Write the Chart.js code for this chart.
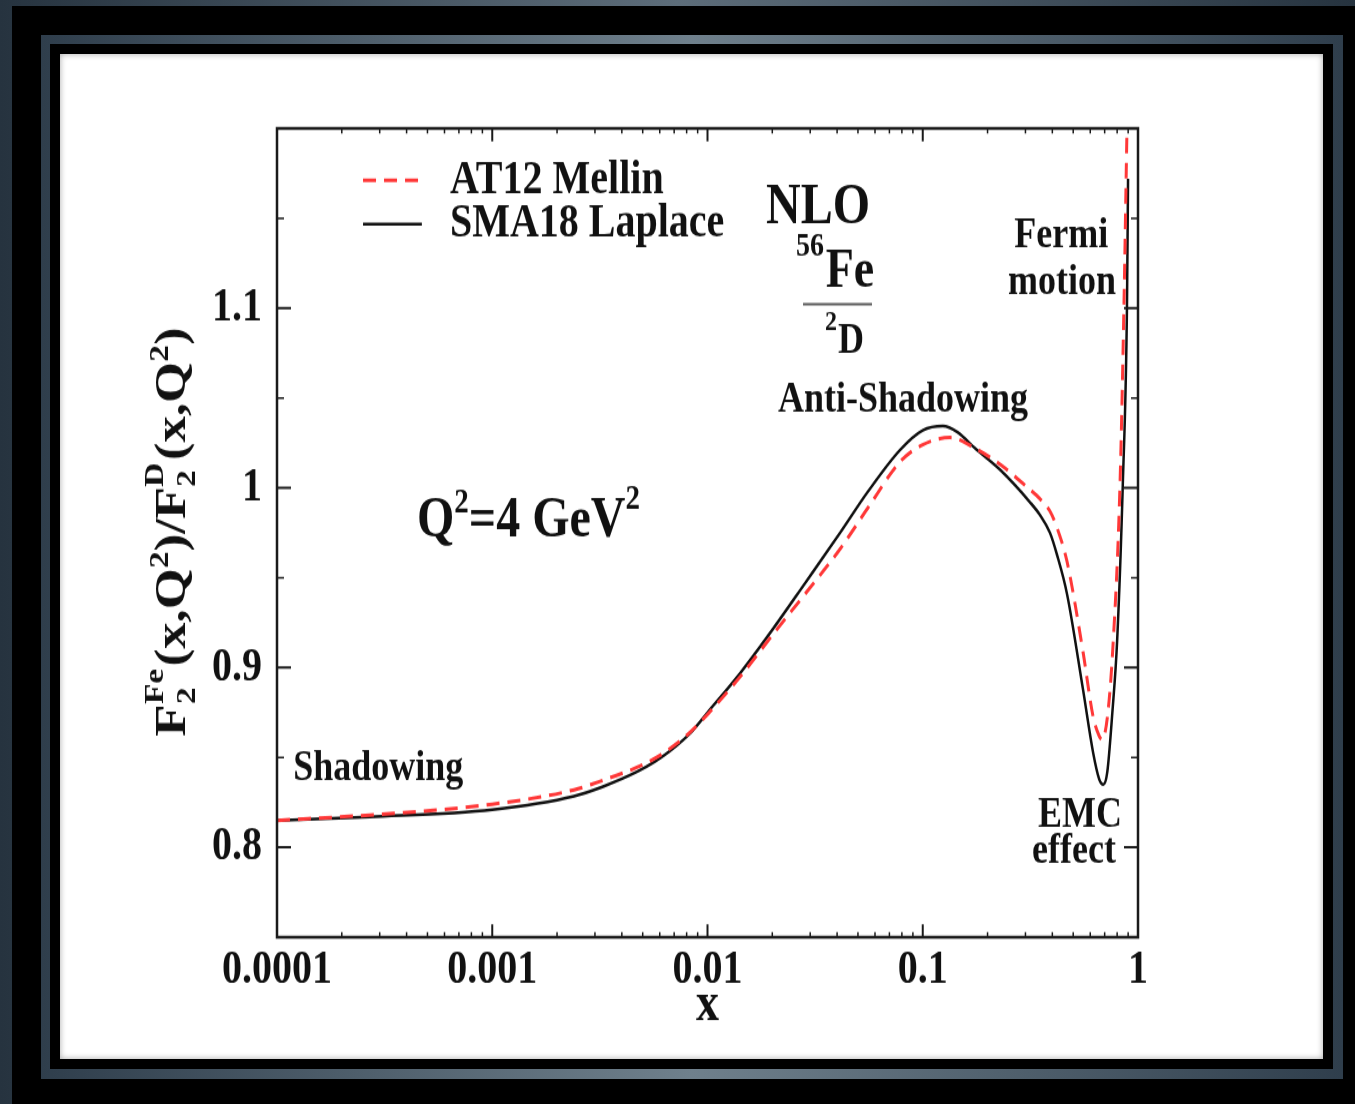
<!DOCTYPE html>
<html>
<head>
<meta charset="utf-8">
<script src="https://cdn.jsdelivr.net/npm/chart.js@4.4.1/dist/chart.umd.min.js"></script>
<style>
  html, body { margin: 0; padding: 0; }
  body { width: 1355px; height: 1104px; position: relative; overflow: hidden;
         background: linear-gradient(90deg, #26333f, #5d6d7a 50%, #26333f); }
  .box { position: absolute; }
  #f1 { left: 12px; top: 6px; right: 0; bottom: 0; background: #000; }
  #f2 { left: 41px; top: 35px; width: 1302px; height: 1044px;
        background: linear-gradient(90deg, #2f3e4c, #6f808c 50%, #2f3e4c); }
  #f3 { left: 50px; top: 44px; width: 1283px; height: 1025px; background: #000; }
  #panel { left: 60px; top: 54px; width: 1263px; height: 1005px; background: #fff;
           box-shadow: inset 0 0 6px rgba(0,0,0,0.35); }
  #chart { position: absolute; left: 0; top: 0; }
</style>
</head>
<body>
<div class="box" id="f1"></div>
<div class="box" id="f2"></div>
<div class="box" id="f3"></div>
<div class="box" id="panel"></div>
<!-- the source picture is stretched vertically, so the canvas is too -->
<canvas id="chart" width="1355" height="920" style="width:1355px;height:1104px"></canvas>
<script>
// SMA18 Laplace (solid black)
const smaX = [1e-4, 2.7e-4, 1e-3, 2.4e-3, 3.3e-3, 4.7e-3, 5.7e-3, 6.7e-3, 8.3e-3, 0.01, 0.0142, 0.02,
              0.0284, 0.0413, 0.0557, 0.0783, 0.1, 0.124, 0.145, 0.175, 0.229, 0.315, 0.35, 0.39, 0.42,
              0.468, 0.555, 0.618, 0.66, 0.69, 0.72, 0.76, 0.80, 0.85, 0.889, 0.899];
const smaY = [0.815, 0.817, 0.821, 0.8285, 0.834, 0.842, 0.8477, 0.8536, 0.8634, 0.875, 0.897, 0.921,
              0.947, 0.975, 0.998, 1.021, 1.032, 1.0344, 1.031, 1.022, 1.010, 0.992, 0.985, 0.975, 0.963,
              0.941, 0.888, 0.853, 0.838, 0.835, 0.842, 0.875, 0.915, 1.002, 1.102, 1.172];
// AT12 Mellin (dashed red)
const atX = [1e-4, 2.7e-4, 1e-3, 2.4e-3, 3.3e-3, 4.7e-3, 5.7e-3, 6.7e-3, 8.3e-3, 0.01, 0.0142, 0.02,
             0.0284, 0.0413, 0.0557, 0.0783, 0.1, 0.134, 0.175, 0.229, 0.315, 0.35, 0.39, 0.42, 0.468,
             0.555, 0.618, 0.66, 0.68, 0.72, 0.765, 0.824, 0.86, 0.889, 0.91];
const atY = [0.815, 0.818, 0.824, 0.832, 0.8375, 0.8445, 0.8495, 0.855, 0.864, 0.874, 0.895, 0.918,
             0.941, 0.966, 0.989, 1.0144, 1.024, 1.028, 1.022, 1.013, 0.999, 0.994, 0.987, 0.978, 0.959,
             0.909, 0.873, 0.862, 0.860, 0.872, 0.912, 1.000, 1.100, 1.200, 1.260];

const xTicks = [1e-4, 1e-3, 1e-2, 1e-1, 1];
const xTickLabels = ['0.0001', '0.001', '0.01', '0.1', '1'];
const yTicks = [0.8, 0.9, 1.0, 1.1];
const yTickLabels = ['0.8', '0.9', '1', '1.1'];
const yMinorTicks = [0.75, 0.85, 0.95, 1.05, 1.15];

const SERIF = '"Liberation Serif", "Times New Roman", serif';
const K = 1104 / 920; // vertical stretch

function pts(xs, ys) { return xs.map((x, i) => ({ x: x, y: ys[i] })); }

function text(ctx, s, x, y, size, align) {
  ctx.font = 'bold ' + size + 'px ' + SERIF;
  ctx.textAlign = align || 'left';
  ctx.textBaseline = 'middle';
  ctx.fillText(s, x, y);
  return ctx.measureText(s).width;
}

// box round the plot with inward ticks on all four sides
const framePlugin = {
  id: 'frame',
  afterDatasetsDraw(chart) {
    const { ctx, chartArea: a, scales } = chart;
    const xs = scales.x, ys = scales.y;
    ctx.save();
    ctx.strokeStyle = '#1a1a1a';
    ctx.lineWidth = 2;
    ctx.beginPath();
    xTicks.forEach(v => {
      const p = xs.getPixelForValue(v);
      ctx.moveTo(p, a.bottom); ctx.lineTo(p, a.bottom - 13 / K);
      ctx.moveTo(p, a.top); ctx.lineTo(p, a.top + 13 / K);
    });
    yTicks.forEach(v => {
      const p = ys.getPixelForValue(v);
      ctx.moveTo(a.left, p); ctx.lineTo(a.left + 14, p);
      ctx.moveTo(a.right, p); ctx.lineTo(a.right - 14, p);
    });
    ctx.stroke();
    ctx.lineWidth = 1.5;
    ctx.beginPath();
    for (let d = 1e-4; d < 1; d *= 10) {
      for (let k = 2; k <= 9; k++) {
        const p = xs.getPixelForValue(d * k);
        ctx.moveTo(p, a.bottom); ctx.lineTo(p, a.bottom - 5 / K);
        ctx.moveTo(p, a.top); ctx.lineTo(p, a.top + 5 / K);
      }
    }
    yMinorTicks.forEach(v => {
      const p = ys.getPixelForValue(v);
      ctx.moveTo(a.left, p); ctx.lineTo(a.left + 7, p);
      ctx.moveTo(a.right, p); ctx.lineTo(a.right - 7, p);
    });
    ctx.stroke();
    ctx.lineWidth = 2.5;
    ctx.strokeRect(a.left, a.top, a.right - a.left, a.bottom - a.top);
    ctx.restore();
  }
};

const notesPlugin = {
  id: 'notes',
  afterDraw(chart) {
    const { ctx, scales } = chart;
    const X = v => scales.x.getPixelForValue(v);
    const Y = v => scales.y.getPixelForValue(v);
    ctx.save();
    ctx.fillStyle = '#111';

    // legend
    const ds = chart.data.datasets;
    [[1.1711, ds[0]], [1.1467, ds[1]]].forEach(([yv, d]) => {
      ctx.save();
      ctx.strokeStyle = d.borderColor;
      ctx.lineWidth = d.borderWidth;
      ctx.setLineDash(d.borderDash || []);
      ctx.beginPath();
      ctx.moveTo(X(2.51e-4), Y(yv));
      ctx.lineTo(X(4.71e-4), Y(yv));
      ctx.stroke();
      ctx.restore();
      text(ctx, d.label, X(6.36e-4), Y(yv), 40);
    });

    text(ctx, 'Shadowing', X(1.19e-4), Y(0.8435), 36);
    text(ctx, 'Anti-Shadowing', X(0.0809), Y(1.0489), 36, 'center');
    text(ctx, 'Fermi', X(0.44), Y(1.14), 36, 'center');
    text(ctx, 'motion', X(0.444), Y(1.1144), 36, 'center');
    text(ctx, 'EMC', X(0.5377), Y(0.8178), 36, 'center');
    text(ctx, 'effect', X(0.504), Y(0.7978), 36, 'center');

    // NLO 56Fe / 2D
    text(ctx, 'NLO', X(0.0326), Y(1.1556), 48, 'center');
    text(ctx, 'Fe', X(0.0459), Y(1.12), 46, 'center');
    text(ctx, '56', X(0.0348), Y(1.1339), 28, 'right');
    ctx.save();
    ctx.strokeStyle = '#555';
    ctx.lineWidth = 2;
    ctx.beginPath();
    ctx.moveTo(X(0.02778), Y(1.1022));
    ctx.lineTo(X(0.0581), Y(1.1022));
    ctx.stroke();
    ctx.restore();
    text(ctx, 'D', X(0.0464), Y(1.0811), 36, 'center');
    text(ctx, '2', X(0.0375), Y(1.0922), 24, 'center');

    // Q^2 = 4 GeV^2
    let qx = X(4.47e-4);
    const qy = Y(0.9811);
    qx += text(ctx, 'Q', qx, qy, 48);
    qx += text(ctx, '2', qx, qy - 15, 29);
    qx += text(ctx, '=4 GeV', qx, qy, 48);
    text(ctx, '2', qx, qy - 18, 29);

    // y axis title, rotated
    const parts = [
      ['F', 0, 44], ['2|Fe', 0, 28], ['(x,Q', 0, 44], ['2', -17, 28], [')/F', 0, 44],
      ['2|D', 0, 28], ['(x,Q', 0, 44], ['2', -17, 28], [')', 0, 44]
    ];
    ctx.translate(185, 532 / K);
    ctx.rotate(-Math.PI / 2);
    ctx.textBaseline = 'alphabetic';
    ctx.textAlign = 'left';
    const widthOf = p => {
      ctx.font = 'bold ' + p[2] + 'px ' + SERIF;
      if (p[0].indexOf('|') >= 0) {
        return Math.max(...p[0].split('|').map(s => ctx.measureText(s).width)) + 2;
      }
      return ctx.measureText(p[0]).width;
    };
    const total = parts.reduce((s, p) => s + widthOf(p), 0);
    let tx = -total / 2;
    parts.forEach(p => {
      const w = widthOf(p);
      ctx.font = 'bold ' + p[2] + 'px ' + SERIF;
      if (p[0].indexOf('|') >= 0) {
        const [sub, sup] = p[0].split('|');
        ctx.fillText(sub, tx, 10);
        ctx.fillText(sup, tx, -22);
      } else {
        ctx.fillText(p[0], tx, p[1]);
      }
      tx += w;
    });
    ctx.restore();
  }
};

new Chart(document.getElementById('chart'), {
  type: 'line',
  data: {
    datasets: [{
      label: 'AT12 Mellin',
      data: pts(atX, atY),
      borderColor: '#ff3838',
      borderWidth: 3,
      borderDash: [13, 8],
      pointRadius: 0,
      fill: false,
      cubicInterpolationMode: 'monotone'
    }, {
      label: 'SMA18 Laplace',
      data: pts(smaX, smaY),
      borderColor: '#111111',
      borderWidth: 2.5,
      pointRadius: 0,
      fill: false,
      cubicInterpolationMode: 'monotone'
    }]
  },
  options: {
    responsive: false,
    animation: false,
    devicePixelRatio: 1,
    layout: { padding: { left: 60, right: 217, top: 107, bottom: 54 } },
    plugins: { legend: { display: false }, tooltip: { enabled: false } },
    scales: {
      x: {
        type: 'logarithmic',
        min: 1e-4,
        max: 1,
        afterBuildTicks: s => { s.ticks = xTicks.map(v => ({ value: v })); },
        afterFit: s => { s.height = 85; },
        grid: { display: false },
        border: { display: false },
        ticks: {
          autoSkip: false,
          maxRotation: 0,
          padding: -4,
          color: '#111',
          font: { family: SERIF, size: 40, weight: 'bold' },
          callback: (v, i) => xTickLabels[i]
        },
        title: {
          display: true,
          text: 'x',
          color: '#111',
          padding: 0,
          font: { family: SERIF, size: 46, weight: 'bold' }
        }
      },
      y: {
        min: 0.75,
        max: 1.2,
        afterBuildTicks: s => { s.ticks = yTicks.map(v => ({ value: v })); },
        afterFit: s => { s.width = 217; },
        grid: { display: false },
        border: { display: false },
        ticks: {
          padding: 7,
          color: '#111',
          font: { family: SERIF, size: 40, weight: 'bold' },
          callback: (v, i) => yTickLabels[i]
        }
      }
    }
  },
  plugins: [framePlugin, notesPlugin]
});
</script>
</body>
</html>
